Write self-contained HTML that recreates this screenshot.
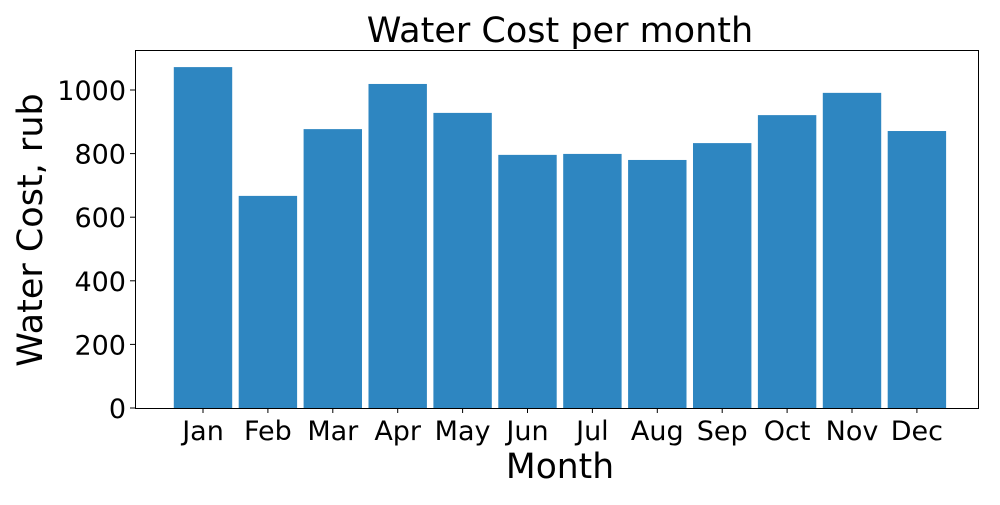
<!DOCTYPE html>
<html><head><meta charset="utf-8"><style>
body{margin:0;background:#fff;}
svg text{font-family:"DejaVu Sans","Liberation Sans",sans-serif;fill:#000;}
</style></head><body>
<svg id="chart" width="1000" height="500" xmlns="http://www.w3.org/2000/svg">
<text x="560" y="42" font-size="35" text-anchor="middle">Water Cost per month</text>
<g id="bars"></g>
<g id="xticks"></g>
<g id="yticks"></g>
<rect x="135.5" y="50.5" width="843" height="358" fill="none" stroke="#000" stroke-width="1"/>
<text x="560" y="478" font-size="34.5" text-anchor="middle">Month</text>
<text transform="translate(42,230) rotate(-90)" font-size="35" text-anchor="middle">Water Cost, rub</text>
</svg>
<script>
const categories=["Jan","Feb","Mar","Apr","May","Jun","Jul","Aug","Sep","Oct","Nov","Dec"];
const values=[1072,667,877,1019,928,796,799,780,833,921,991,871];
const yTicks=[0,200,400,600,800,1000];
const NS="http://www.w3.org/2000/svg";
const y0=408, pxPer=0.318;
const yScale=v=>y0-v*pxPer;
const step=64.9, firstC=203;
const xScale=i=>firstC+i*step;
const bw=step*0.9;
const bars=document.getElementById('bars'),xt=document.getElementById('xticks'),yt=document.getElementById('yticks');
function mk(t,a){const e=document.createElementNS(NS,t);for(const k in a)e.setAttribute(k,a[k]);return e;}
categories.forEach((c,i)=>{
  const r=mk('rect',{x:xScale(i)-bw/2,y:yScale(values[i]),width:bw,height:values[i]*pxPer,fill:'#2e86c1'});
  
  
  bars.appendChild(r);
  const tk=mk('line',{x1:xScale(i),x2:xScale(i),y1:408,y2:413,stroke:'#000'});
  
  
  xt.appendChild(tk);
  const t=mk('text',{x:xScale(i),y:440,'font-size':27,'text-anchor':'middle'});
  
  
  t.textContent=c;xt.appendChild(t);
});
yTicks.forEach(v=>{
  const tk=mk('line',{x1:130,x2:135,y1:yScale(v),y2:yScale(v),stroke:'#000'});
  
  
  yt.appendChild(tk);
  const t=mk('text',{x:126,y:yScale(v)+10,'font-size':27,'text-anchor':'end'});
  
  
  t.textContent=v;yt.appendChild(t);
});
</script>
</body></html>
